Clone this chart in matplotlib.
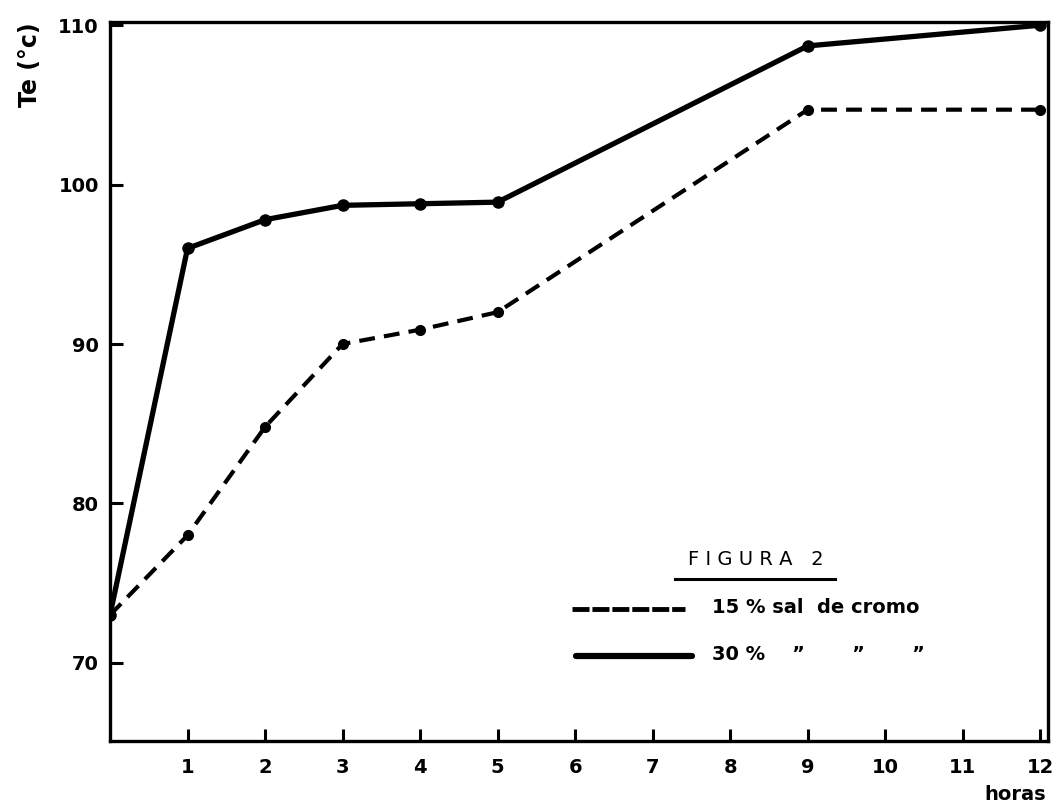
import matplotlib.pyplot as plt

# data
horas = [0, 1, 2, 3, 4, 5, 9, 12]
te_15 = [73.0, 78.0, 84.8, 90.0, 90.9, 92.0, 104.7, 104.7]   # 15 % sal de cromo
te_30 = [73.0, 96.0, 97.8, 98.7, 98.8, 98.9, 108.7, 110.0]   # 30 %
x_ticks = list(range(1, 13))
y_ticks = [70, 80, 90, 100, 110]

plt.rcParams['font.family'] = 'DejaVu Sans'
plt.rcParams['font.weight'] = 'bold'

fig = plt.figure(figsize=(10.56, 8.10), dpi=100)
ax = fig.add_axes([110 / 1056, 69 / 810, 938 / 1056, 719 / 810])

ax.plot(horas, te_30, color='black', lw=3.8, marker='o', ms=8,
        solid_capstyle='round', zorder=3)
ax.plot(horas, te_15, color='black', lw=3.0, marker='o', ms=7,
        dashes=(3.8, 2.2), zorder=3)

ax.set_xlim(0, 12.1)
ax.set_ylim(65.1, 110.2)
ax.set_xticks(x_ticks)
ax.set_yticks(y_ticks)
ax.tick_params(direction='in', length=9, width=2.2, labelsize=14)
ax.tick_params(axis='y', pad=8)
ax.tick_params(axis='x', pad=12)
for s in ax.spines.values():
    s.set_linewidth(2.4)

ax.text(-0.085, 0.94, 'Te (°c)', transform=ax.transAxes, rotation=90,
        fontsize=17, ha='center', va='center')
ax.text(0.965, -0.075, 'horas', transform=ax.transAxes, fontsize=14,
        ha='center', va='center')

# legend block
ax.text(0.688, 0.252, 'F I G U R A   2', transform=ax.transAxes,
        fontsize=14, fontweight='normal', ha='center', va='center')
ax.plot([0.602, 0.773], [0.226, 0.226], transform=ax.transAxes,
        color='black', lw=2.2, clip_on=False)
ax.plot([0.4925, 0.613], [0.1836, 0.1836], transform=ax.transAxes,
        color='black', lw=3.5, dashes=(3.5, 0.6))
ax.plot([0.497, 0.621], [0.118, 0.118], transform=ax.transAxes,
        color='black', lw=4.5, solid_capstyle='round')
ax.text(0.642, 0.186, '15 % sal  de cromo', transform=ax.transAxes,
        fontsize=14, ha='left', va='center')
ax.text(0.642, 0.121, '30 %    \u201d       \u201d       \u201d', transform=ax.transAxes,
        fontsize=14, ha='left', va='center')

plt.savefig('out.png', dpi=100)
